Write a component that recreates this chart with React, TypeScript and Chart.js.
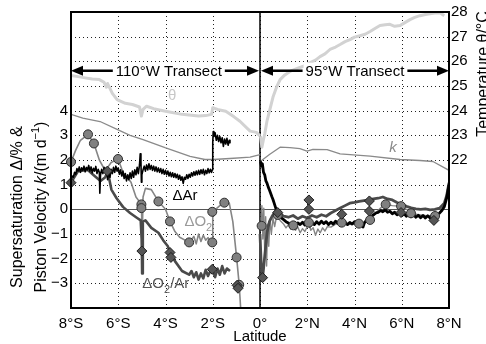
import React, { useEffect, useRef } from 'react';
import { Chart, registerables } from 'chart.js';

Chart.register(...registerables);

const FONT = '"Liberation Sans", Arial, Helvetica, sans-serif';

// ---------- tick labels ----------
const latTicks = [-8, -6, -4, -2, 0, 2, 4, 6, 8];
const latTickLabels = ['8°S', '6°S', '4°S', '2°S', '0°', '2°N', '4°N', '6°N', '8°N'];
const leftTickVals = [-3, -2, -1, 0, 1, 2, 3, 4];
const rightTickVals = [22, 23, 24, 25, 26, 27, 28];

// ---------- 110°W transect ----------
const latTheta110 = [-8.0, -7.7, -7.4, -7.1, -6.8, -6.6, -6.5, -6.45, -6.25, -6.05, -5.7, -5.4, -5.1, -5.02, -4.95, -4.8, -4.5, -4.0, -3.3, -2.6, -2.3, -2.05, -2.0, -1.8, -1.45, -1.1, -0.85, -0.42, -0.15, 0.0];
const theta110 = [25.43, 25.38, 25.33, 25.28, 25.26, 25.15, 24.95, 25.1, 24.7, 24.45, 24.3, 24.25, 24.15, 23.78, 24.05, 24.18, 24.08, 23.98, 23.85, 23.78, 23.8, 23.85, 24.12, 24.05, 23.98, 23.75, 23.57, 23.17, 23.12, 22.97];

const latK110 = [-8.0, -7.5, -6.77, -6.05, -5.5, -4.95, -4.02, -2.96, -2.33, -1.99, -1.27, -0.42, 0.0];
const k110 = [3.85, 3.7, 3.56, 3.24, 3.0, 2.83, 2.5, 2.15, 2.02, 2.02, 2.06, 2.12, 2.22];

const latAr110 = [-8.0, -7.95, -7.9, -7.85, -7.8, -7.75, -7.7, -7.65, -7.6, -7.55, -7.5, -7.45, -7.4, -7.35, -7.3, -7.25, -7.2, -7.15, -7.1, -7.05, -7.0, -6.95, -6.9, -6.85, -6.8, -6.78, -6.75, -6.7, -6.65, -6.6, -6.55, -6.5, -6.45, -6.4, -6.35, -6.3, -6.25, -6.2, -6.15, -6.1, -6.05, -6.0, -5.95, -5.9, -5.85, -5.8, -5.75, -5.7, -5.65, -5.6, -5.55, -5.5, -5.45, -5.4, -5.35, -5.3, -5.25, -5.2, -5.15, -5.1, -5.07, -5.04, -5.02, -5.0, -4.95, -4.9, -4.85, -4.8, -4.75, -4.7, -4.65, -4.6, -4.55, -4.5, -4.45, -4.4, -4.35, -4.3, -4.25, -4.2, -4.15, -4.1, -4.05, -4.0, -3.95, -3.9, -3.85, -3.8, -3.75, -3.7, -3.65, -3.6, -3.55, -3.5, -3.45, -3.4, -3.35, -3.3, -3.25, -3.2, -3.15, -3.1, -3.05, -3.0, -2.95, -2.9, -2.85, -2.8, -2.75, -2.7, -2.65, -2.6, -2.55, -2.5, -2.45, -2.4, -2.35, -2.3, -2.25, -2.2, -2.15, -2.1, -2.05, -2.02, -2.0, -1.98, -1.95, -1.9, -1.85, -1.8, -1.75, -1.7, -1.65, -1.6, -1.55, -1.5, -1.45, -1.4, -1.35, -1.3, -1.27];
const dAr110 = [1.2, 1.35, 1.3, 1.5, 1.42, 1.65, 1.55, 1.72, 1.5, 1.68, 1.58, 1.75, 1.52, 1.7, 1.6, 1.78, 1.55, 1.72, 1.48, 1.66, 1.55, 1.74, 1.45, 1.62, 1.5, 0.65, 1.4, 1.62, 1.45, 1.7, 1.5, 1.66, 1.2, 1.55, 1.3, 1.62, 1.45, 1.7, 1.5, 1.75, 1.55, 1.68, 1.42, 1.6, 1.35, 1.55, 1.25, 1.45, 1.15, 1.4, 1.2, 1.48, 1.25, 1.55, 1.3, 1.6, 1.4, 1.7, 1.45, 1.8, 2.25, 1.95, 1.1, 1.4, 1.6, 1.75, 1.55, 1.8, 1.6, 1.85, 1.62, 1.78, 1.58, 1.75, 1.55, 1.72, 1.52, 1.68, 1.5, 1.65, 1.45, 1.62, 1.42, 1.58, 1.4, 1.55, 1.35, 1.5, 1.32, 1.48, 1.3, 1.45, 1.28, 1.42, 1.22, 1.38, 1.18, 1.32, 1.05, 1.3, 1.22, 1.4, 1.25, 1.42, 1.3, 1.48, 1.35, 1.52, 1.38, 1.55, 1.4, 1.58, 1.42, 1.6, 1.45, 1.62, 1.4, 1.58, 1.45, 1.65, 1.48, 1.62, 1.5, 1.6, 2.7, 3.15, 2.95, 3.1, 2.8, 3.0, 2.75, 2.95, 2.7, 2.9, 2.55, 2.85, 2.65, 2.88, 2.6, 2.8, 2.7];

const latO2110 = [-8.0, -7.8, -7.6, -7.28, -7.03, -6.8, -6.6, -6.45, -6.3, -6.01, -5.8, -5.46, -5.25, -5.02, -5.0, -4.98, -4.95, -4.85, -4.6, -4.3, -4.0, -3.81, -3.6, -3.4, -3.0, -2.8, -2.7, -2.6, -2.5, -2.4, -2.3, -2.2, -2.1, -2.02, -2.0, -1.7, -1.51, -1.3, -1.15, -0.99, -0.88, -0.8];
const dO2110 = [1.92, 2.4, 2.8, 3.04, 2.67, 2.0, 1.65, 1.7, 1.9, 2.04, 1.5, 1.1, 0.5, 0.2, -0.6, -0.9, 0.5, 0.85, 0.8, 0.32, 0.0, -0.49, -0.9, -1.13, -1.34, -1.1, -1.4, -1.0, -1.3, -1.05, -1.25, -1.15, -1.3, -1.34, -0.1, 0.15, 0.27, 0.25, -0.5, -1.95, -3.06, -4.3];

const latO2Ar110 = [-8.0, -7.7, -7.3, -7.0, -6.75, -6.55, -6.45, -6.29, -6.07, -5.8, -5.5, -5.2, -5.05, -5.01, -5.0, -4.99, -4.96, -4.85, -4.6, -4.3, -4.1, -3.9, -3.81, -3.6, -3.3, -3.0, -2.9, -2.8, -2.7, -2.6, -2.5, -2.4, -2.3, -2.2, -2.1, -2.02, -1.9, -1.8, -1.7, -1.6, -1.5, -1.4, -1.27];
const dO2Ar110 = [1.08, 1.55, 1.6, 1.35, 1.15, 1.3, 1.55, 0.8, 0.45, 0.1, -0.15, -0.35, -0.45, -1.2, -1.69, -2.6, -0.5, -0.45, -0.75, -0.95, -1.25, -1.5, -1.75, -2.1, -2.5, -2.65, -2.5, -2.75, -2.55, -2.85, -2.6, -2.8, -2.45, -2.7, -2.5, -2.43, -2.75, -2.4, -2.65, -2.3, -2.6, -2.4, -2.5];
const latO2Ar110b = [-0.98, -0.9];
const dO2Ar110b = [-3.05, -3.2];

// ---------- 95°W transect ----------
const latTheta95 = [0.02, 0.08, 0.14, 0.2, 0.3, 0.42, 0.55, 0.7, 0.85, 1.05, 1.27, 1.5, 1.69, 1.9, 2.12, 2.35, 2.54, 2.75, 2.96, 3.2, 3.39, 3.6, 3.81, 4.0, 4.23, 4.45, 4.66, 4.9, 5.08, 5.3, 5.5, 5.7, 5.93, 6.15, 6.35, 6.55, 6.77, 7.0, 7.2, 7.4, 7.62, 7.8];
const theta95 = [22.97, 22.52, 22.8, 23.05, 23.6, 24.05, 24.55, 24.95, 25.26, 25.45, 25.59, 25.68, 25.75, 25.82, 25.95, 26.05, 26.19, 26.3, 26.48, 26.58, 26.68, 26.8, 26.88, 26.98, 27.04, 27.1, 27.21, 27.35, 27.45, 27.48, 27.5, 27.42, 27.45, 27.58, 27.69, 27.78, 27.85, 27.9, 27.93, 27.96, 27.97, 27.85];

const latK95 = [0.04, 0.4, 0.85, 1.27, 1.69, 1.99, 2.24, 2.84, 3.39, 4.66, 5.93, 6.77, 7.32, 8.0];
const k95 = [1.96, 2.22, 2.52, 2.5, 2.46, 2.36, 2.43, 2.42, 2.25, 2.16, 2.02, 1.98, 1.94, 1.58];

const latAr95 = [0.02, 0.06, 0.1, 0.15, 0.2, 0.25, 0.3, 0.35, 0.4, 0.45, 0.5, 0.55, 0.6, 0.65, 0.7, 0.75, 0.8, 0.9, 1.0, 1.1, 1.2, 1.3, 1.4, 1.5, 1.6, 1.7, 1.8, 1.9, 2.0, 2.1, 2.2, 2.3, 2.4, 2.5, 2.6, 2.7, 2.8, 2.9, 3.0, 3.1, 3.2, 3.3, 3.4, 3.5, 3.6, 3.7, 3.8, 3.9, 4.0, 4.1, 4.2, 4.3, 4.36, 4.42, 4.5, 4.6, 4.7, 4.8, 4.9, 5.0, 5.1, 5.2, 5.3, 5.4, 5.5, 5.6, 5.7, 5.8, 5.9, 6.0, 6.1, 6.2, 6.3, 6.4, 6.5, 6.6, 6.7, 6.8, 6.9, 7.0, 7.1, 7.2, 7.3, 7.4, 7.5, 7.6, 7.7, 7.8, 7.9, 8.0];
const dAr95 = [1.95, 1.75, 1.85, 1.5, 1.4, 1.15, 1.05, 0.9, 0.78, 0.65, 0.52, 0.4, 0.25, 0.1, -0.05, -0.15, -0.25, -0.35, -0.42, -0.5, -0.55, -0.62, -0.58, -0.66, -0.55, -0.62, -0.52, -0.64, -0.55, -0.68, -0.55, -0.62, -0.5, -0.6, -0.48, -0.58, -0.5, -0.62, -0.52, -0.6, -0.48, -0.58, -0.5, -0.6, -0.52, -0.62, -0.53, -0.6, -0.5, -0.58, -0.52, -0.62, -0.72, -0.55, -0.45, -0.38, -0.3, -0.22, -0.15, -0.12, -0.05, -0.1, -0.02, -0.12, -0.08, -0.18, -0.12, -0.22, -0.15, -0.25, -0.18, -0.28, -0.2, -0.3, -0.22, -0.32, -0.24, -0.34, -0.25, -0.35, -0.26, -0.35, -0.28, -0.35, -0.22, -0.15, -0.05, 0.1, 0.45, 1.0];

const latO295 = [0.0, 0.04, 0.08, 0.12, 0.16, 0.2, 0.24, 0.28, 0.32, 0.37, 0.42, 0.48, 0.55, 0.62, 0.7, 0.75, 0.85, 1.0, 1.1, 1.2, 1.3, 1.41, 1.5, 1.6, 1.7, 1.8, 1.9, 2.0, 2.07, 2.15, 2.25, 2.35, 2.45, 2.55, 2.65, 2.75, 2.85, 3.0, 3.2, 3.46, 3.7, 4.0, 4.2, 4.4, 4.66, 4.9, 5.1, 5.32, 5.6, 5.97, 6.2, 6.39, 6.7, 7.0, 7.41, 7.6, 7.8, 8.0];
const dO295 = [-0.5, -0.67, 0.15, -1.2, 0.05, -1.8, -0.3, -2.3, -0.6, -1.5, -0.4, -1.0, -0.35, -0.7, -0.3, -0.23, -0.45, -0.6, -0.75, -0.62, -0.8, -0.65, -0.85, -0.72, -0.95, -0.78, -0.9, -0.7, -0.58, -0.85, -0.75, -1.05, -0.8, -0.95, -0.75, -0.88, -0.7, -0.72, -0.6, -0.56, -0.62, -0.6, -0.6, -0.55, -0.43, -0.15, 0.05, 0.2, 0.15, 0.12, 0.0, -0.15, -0.22, -0.25, -0.28, -0.15, 0.2, 0.9];

const latO2Ar95 = [0.0, 0.05, 0.1, 0.15, 0.2, 0.25, 0.3, 0.35, 0.4, 0.5, 0.6, 0.7, 0.8, 0.9, 1.0, 1.2, 1.4, 1.6, 1.8, 2.0, 2.2, 2.4, 2.6, 2.8, 3.0, 3.2, 3.4, 3.6, 3.8, 4.0, 4.2, 4.4, 4.6, 4.8, 5.0, 5.2, 5.4, 5.6, 5.8, 6.0, 6.2, 6.4, 6.6, 6.8, 7.0, 7.2, 7.4, 7.6, 7.8, 7.9, 8.0];
const dO2Ar95 = [-1.0, -2.2, -2.85, -2.4, -1.9, -1.4, -0.95, -0.7, -0.5, -0.3, -0.15, -0.05, -0.1, -0.2, -0.28, -0.32, -0.25, -0.38, -0.28, -0.35, -0.25, -0.32, -0.22, -0.28, -0.15, -0.05, 0.05, 0.15, 0.25, 0.28, 0.32, 0.35, 0.38, 0.42, 0.45, 0.5, 0.42, 0.38, 0.28, 0.2, 0.12, 0.06, 0.02, 0.0, 0.02, -0.02, 0.0, 0.05, 0.25, 0.55, 1.08];

// ---------- discrete samples (markers) ----------
const latCircles = [-8.0, -7.28, -7.03, -6.01, -5.02, -5.02, -4.3, -3.81, -3.0, -2.02, -2.02, -1.51, -0.99, -0.88, 0.07, 0.75, 1.41, 2.07, 3.46, 4.19, 4.66, 5.32, 5.97, 6.39, 7.41];
const valCircles = [1.92, 3.04, 2.67, 2.04, 0.2, 0.05, 0.32, -0.49, -1.34, -1.34, -0.1, 0.27, -1.95, -3.06, -0.67, -0.23, -0.65, -0.54, -0.54, -0.58, -0.43, 0.2, 0.13, -0.16, -0.27];
const latDiamonds = [-8.0, -6.46, -5.0, -3.81, -3.77, -2.02, -0.97, -0.93, 0.11, 0.75, 2.07, 2.07, 3.46, 4.63, 4.63, 5.97, 7.36];
const valDiamonds = [1.08, 1.55, -1.69, -1.75, -1.95, -2.43, -3.08, -3.2, -2.77, -0.13, 0.38, 0.0, -0.2, 0.34, -0.07, -0.13, -0.45];

const C_THETA = '#d2d2d2';
const C_K = '#8a8a8a';
const C_AR = '#000000';
const C_O2 = '#858585';
const C_O2AR = '#4a4a4a';

const pts = (xs: number[], ys: number[]) => xs.map((x, i) => ({ x, y: ys[i] }));

const line = (label: string, xs: number[], ys: number[], color: string, width: number, axis = 'y') => ({
  label,
  data: pts(xs, ys),
  borderColor: color,
  backgroundColor: color,
  borderWidth: width,
  pointRadius: 0,
  tension: 0,
  yAxisID: axis,
  borderJoinStyle: 'round' as const,
});

const marks = (label: string, xs: number[], ys: number[], style: string, r: number, fill: string, stroke: string) => ({
  label,
  data: pts(xs, ys),
  showLine: false,
  pointStyle: style,
  pointRadius: r,
  pointBackgroundColor: fill,
  pointBorderColor: stroke,
  pointBorderWidth: 1,
  yAxisID: 'y',
  clip: false as any,
});

function drawRich(ctx: CanvasRenderingContext2D, parts: { t: string; f: string; dy?: number }[]) {
  let total = 0;
  for (const p of parts) { ctx.font = p.f; total += ctx.measureText(p.t).width; }
  let x = -total / 2;
  for (const p of parts) {
    ctx.font = p.f;
    ctx.fillText(p.t, x, p.dy || 0);
    x += ctx.measureText(p.t).width;
  }
}

function drawArrow(ctx: CanvasRenderingContext2D, xa: number, xb: number, y: number, label: string, xc: number) {
  ctx.save();
  ctx.font = '15px ' + FONT;
  const w = ctx.measureText(label).width;
  const hl = 12, hh = 5;
  ctx.fillStyle = '#fff';
  ctx.fillRect(xc - w / 2 - 2, y - 8, w + 4, 16);
  ctx.strokeStyle = '#000';
  ctx.fillStyle = '#000';
  ctx.lineWidth = 2.5;
  ctx.beginPath();
  ctx.moveTo(xa + hl - 1, y); ctx.lineTo(xc - w / 2 - 3, y);
  ctx.moveTo(xc + w / 2 + 3, y); ctx.lineTo(xb - hl + 1, y);
  ctx.stroke();
  ctx.beginPath();
  ctx.moveTo(xa, y); ctx.lineTo(xa + hl, y - hh); ctx.lineTo(xa + hl, y + hh); ctx.closePath();
  ctx.fill();
  ctx.beginPath();
  ctx.moveTo(xb, y); ctx.lineTo(xb - hl, y - hh); ctx.lineTo(xb - hl, y + hh); ctx.closePath();
  ctx.fill();
  ctx.textAlign = 'center';
  ctx.textBaseline = 'middle';
  ctx.fillText(label, xc, y + 1);
  ctx.restore();
}

const annotPlugin = {
  id: 'annot',
  beforeDatasetsDraw(chart: any) {
    const { ctx, chartArea: a, scales } = chart;
    const sx = scales.x, sy = scales.y;
    ctx.save();
    // dotted grid from the scales' own ticks
    ctx.strokeStyle = '#222';
    ctx.lineWidth = 1;
    ctx.setLineDash([1, 3]);
    ctx.beginPath();
    for (const t of sx.ticks) {
      const px = Math.round(sx.getPixelForValue(t.value)) + 0.5;
      if (px <= a.left + 2 || px >= a.right - 2) continue;
      ctx.moveTo(px, a.top); ctx.lineTo(px, a.bottom);
    }
    for (const t of sy.ticks) {
      const py = Math.round(sy.getPixelForValue(t.value)) + 0.5;
      if (py <= a.top + 2 || py >= a.bottom - 2) continue;
      ctx.moveTo(a.left, py); ctx.lineTo(a.right, py);
    }
    ctx.stroke();
    ctx.setLineDash([]);
    const y0 = Math.round(sy.getPixelForValue(0)) + 0.5;
    const x0 = sx.getPixelForValue(0);
    ctx.strokeStyle = '#555';
    ctx.lineWidth = 1;
    ctx.beginPath(); ctx.moveTo(a.left, y0); ctx.lineTo(a.right, y0); ctx.stroke();
    ctx.strokeStyle = '#000';
    ctx.lineWidth = 1.5;
    ctx.beginPath(); ctx.moveTo(x0, a.top); ctx.lineTo(x0, a.bottom); ctx.stroke();
    ctx.restore();
  },
  afterDatasetsDraw(chart: any) {
    const { ctx, chartArea: a, scales } = chart;
    const sx = scales.x, sy = scales.y;
    const x0 = sx.getPixelForValue(0);
    const F = '15px ' + FONT;

    // transect arrows
    const ya = sy.getPixelForValue(5.62);
    drawArrow(ctx, a.left, x0 - 1, ya, '110°W Transect', sx.getPixelForValue(-3.86));
    drawArrow(ctx, x0 + 1, a.right, ya, '95°W Transect', sx.getPixelForValue(4.02));

    ctx.save();
    ctx.textBaseline = 'middle';
    ctx.textAlign = 'center';
    // series labels
    ctx.font = F;
    ctx.fillStyle = '#c8c8c8';
    ctx.fillText('θ', sx.getPixelForValue(-3.72), sy.getPixelForValue(4.6));
    ctx.fillStyle = C_K;
    ctx.font = 'italic ' + F;
    ctx.fillText('k', sx.getPixelForValue(5.63), sy.getPixelForValue(2.5));
    ctx.font = F;
    ctx.fillStyle = '#000';
    ctx.fillText('ΔAr', sx.getPixelForValue(-3.17), sy.getPixelForValue(0.53));

    ctx.textAlign = 'left';
    // ΔO2
    let px = sx.getPixelForValue(-3.2);
    let py = sy.getPixelForValue(-0.5);
    ctx.fillStyle = '#9a9a9a';
    ctx.font = F;
    ctx.fillText('ΔO', px, py);
    px += ctx.measureText('ΔO').width;
    ctx.font = '11px ' + FONT;
    ctx.fillText('2', px, py + 6);
    // ΔO2/Ar
    px = sx.getPixelForValue(-4.98);
    py = sy.getPixelForValue(-3.04);
    ctx.fillStyle = '#555';
    ctx.font = F;
    ctx.fillText('ΔO', px, py);
    px += ctx.measureText('ΔO').width;
    ctx.font = '11px ' + FONT;
    ctx.fillText('2', px, py + 6);
    px += ctx.measureText('2').width;
    ctx.font = F;
    ctx.fillText('/Ar', px, py);
    ctx.restore();

    // frame
    ctx.save();
    ctx.strokeStyle = '#000';
    ctx.lineWidth = 2;
    ctx.strokeRect(a.left, a.top, a.right - a.left, a.bottom - a.top);
    ctx.restore();

    // axis titles
    ctx.save();
    ctx.fillStyle = '#000';
    ctx.textAlign = 'left';
    ctx.textBaseline = 'alphabetic';
    const TF = '16px ' + FONT;
    const cy = (a.top + a.bottom) / 2 + 47;
    ctx.save();
    ctx.translate(22, cy);
    ctx.rotate(-Math.PI / 2);
    drawRich(ctx, [{ t: 'Supersaturation Δ/% &', f: TF }]);
    ctx.restore();
    ctx.save();
    ctx.translate(46, cy);
    ctx.rotate(-Math.PI / 2);
    drawRich(ctx, [
      { t: 'Piston Velocity ', f: TF },
      { t: 'k', f: 'italic ' + TF },
      { t: '/(m d', f: TF },
      { t: '−1', f: '11px ' + FONT, dy: -7 },
      { t: ')', f: TF },
    ]);
    ctx.restore();
    ctx.save();
    ctx.translate(488, 74);
    ctx.rotate(-Math.PI / 2);
    drawRich(ctx, [{ t: 'Temperature θ/°C', f: TF }]);
    ctx.restore();
    ctx.font = '15px ' + FONT;
    ctx.textAlign = 'center';
    ctx.fillText('Latitude', (a.left + a.right) / 2, 341);
    ctx.restore();
  },
};

export default function App() {
  const ref = useRef<HTMLCanvasElement | null>(null);
  useEffect(() => {
    if (!ref.current) return;
    const chart = new Chart(ref.current, {
      type: 'line',
      data: {
        datasets: [
          marks('ΔO2/Ar samples', latDiamonds, valDiamonds, 'rectRot', 5, '#555555', '#1e1e1e'),
          marks('ΔO2 samples', latCircles, valCircles, 'circle', 4.5, '#808080', '#2e2e2e'),
          line('ΔAr 110W', latAr110, dAr110, C_AR, 1.6),
          line('ΔAr 95W', latAr95, dAr95, C_AR, 2.8),
          line('ΔO2/Ar 110W', latO2Ar110, dO2Ar110, C_O2AR, 2.6),
          line('ΔO2/Ar 110W b', latO2Ar110b, dO2Ar110b, C_O2AR, 2.6),
          line('ΔO2/Ar 95W', latO2Ar95, dO2Ar95, C_O2AR, 2.8),
          line('ΔO2 110W', latO2110, dO2110, C_O2, 1.6),
          line('ΔO2 95W', latO295, dO295, C_O2, 1.4),
          line('k 110W', latK110, k110, C_K, 1.3),
          line('k 95W', latK95, k95, C_K, 1.3),
          line('θ 110W', latTheta110, theta110, C_THETA, 3, 'y2'),
          line('θ 95W', latTheta95, theta95, C_THETA, 3, 'y2'),
        ] as any,
      },
      options: {
        animation: false,
        responsive: false,
        maintainAspectRatio: false,
        layout: { padding: { top: 11, left: 0, right: 0, bottom: 0 } },
        plugins: { legend: { display: false }, tooltip: { enabled: false } },
        scales: {
          x: {
            type: 'linear',
            min: -8,
            max: 8,
            afterBuildTicks: (s: any) => { s.ticks = latTicks.map((v) => ({ value: v })); },
            ticks: {
              autoSkip: false,
              maxRotation: 0,
              padding: 7,
              color: '#000',
              font: { family: FONT, size: 15 },
              callback: (v: any) => { const i = latTicks.indexOf(Number(v)); return i >= 0 ? latTickLabels[i] : ''; },
            },
            grid: { display: false, drawTicks: false },
            border: { display: true, color: '#000', width: 2 },
            afterFit: (s: any) => { s.height = 36; },
          },
          y: {
            position: 'left',
            min: -4,
            max: 8,
            ticks: {
              stepSize: 1,
              autoSkip: false,
              padding: 3,
              color: '#000',
              font: { family: FONT, size: 15 },
              callback: (v: any) => (leftTickVals.includes(Number(v)) ? (Number(v) < 0 ? '−' + Math.abs(Number(v)) : String(v)) : ''),
            },
            grid: { display: false, drawTicks: false },
            border: { display: true, color: '#000', width: 2 },
            afterFit: (s: any) => { s.width = 71; },
          },
          y2: {
            position: 'right',
            min: 16,
            max: 28,
            ticks: {
              stepSize: 1,
              autoSkip: false,
              padding: 2,
              color: '#000',
              font: { family: FONT, size: 15 },
              callback: (v: any) => (rightTickVals.includes(Number(v)) ? String(v) : ''),
            },
            grid: { display: false, drawTicks: false },
            border: { display: true, color: '#000', width: 2 },
            afterFit: (s: any) => { s.width = 37; },
          },
        },
      } as any,
      plugins: [annotPlugin as any],
    });
    return () => chart.destroy();
  }, []);
  return (
    <div style={{ position: 'fixed', left: 0, top: 0, width: 486, height: 344, background: '#fff' }}>
      <canvas ref={ref} width={486} height={344} style={{ display: 'block' }} />
    </div>
  );
}
